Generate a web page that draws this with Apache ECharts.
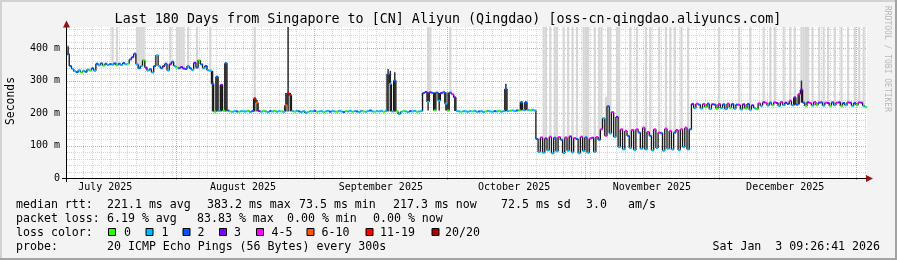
<!DOCTYPE html>
<html><head><meta charset="utf-8">
<script src="https://cdn.jsdelivr.net/npm/echarts@6/dist/echarts.min.js"></script>
<style>html,body{margin:0;padding:0;background:#f3f3f3}#c{width:897px;height:260px}</style>
</head><body><div id="c"></div>
<script>
// ---------------- DATA ----------------
const chartTitle = "Last 180 Days from Singapore to [CN] Aliyun (Qingdao) [oss-cn-qingdao.aliyuncs.com]";
const yAxisTitle = "Seconds";
const endStamp = "Sat Jan  3 09:26:41 2026";
const startUTC = Date.UTC(2025, 6, 7, 9, 26, 41);
const spanDays = 180;
const stepDays = 0.5;
const monthLabels = ["July 2025", "August 2025", "September 2025", "October 2025", "November 2025", "December 2025"];
const monthLabelDates = [[2025,6,16],[2025,7,16],[2025,8,16],[2025,9,16],[2025,10,16],[2025,11,16]];
const monthStartDates = [[2025,7,1],[2025,8,1],[2025,9,1],[2025,10,1],[2025,11,1],[2026,0,1]];
const yTicks = [0, 100, 200, 300, 400];
const yMax = 465;

// median RTT (ms), one value per half day
const median = [
 382,345,336,329,326,332,325,330,327,334,331,338,330,352,347,353,346,352,348,351,
 349,353,347,352,348,354,350,352,365,372,383,350,338,345,363,340,331,335,325,345,
 378,345,338,345,352,331,350,358,345,340,338,342,337,336,345,338,333,355,340,363,
 350,338,345,332,330,290,204,312,206,287,207,353,208,205,204,206,205,204,206,205,
 205,207,203,206,245,232,206,204,207,205,203,206,205,207,204,206,205,204,224,262,
 255,206,204,207,205,203,206,200,204,206,205,207,204,205,206,203,205,207,204,206,
 205,204,207,205,203,206,205,207,204,206,205,203,207,205,204,206,208,205,204,206,
 205,207,204,206,320,290,205,300,205,197,204,206,205,203,206,205,207,204,205,206,
 262,265,234,264,262,208,263,238,262,264,229,208,263,258,248,206,205,204,206,205,
 204,206,205,207,204,205,206,203,205,207,205,204,206,205,207,204,206,274,206,207,
 208,206,208,209,233,209,233,210,209,210,208,120,80,125,78,122,85,127,76,124,
 82,126,118,77,125,84,128,79,123,120,76,127,83,125,78,122,124,80,126,118,
 150,184,130,221,137,203,126,188,95,150,88,145,130,92,148,86,150,140,90,155,
 88,142,130,85,150,92,140,138,84,152,90,145,88,140,148,86,150,95,155,88,
 150,228,215,229,226,214,228,218,229,212,227,226,213,228,215,227,212,229,216,228,
 213,226,225,211,227,214,228,210,224,215,212,230,222,233,232,223,232,224,233,231,
 222,234,224,232,228,238,224,248,226,258,272,232,222,233,231,223,234,224,232,233,
 223,232,231,222,233,224,232,233,222,231,224,233,232,222,231,224,233,232,222,218
];
// loss class per half day: 0=0, 1=1, 2=2, 3=3, 4=4-5, 5=6-10, 6=11-19, 7=20/20
const lossClass = [
 2,2,1,1,2,1,0,1,2,1,0,2,1,2,1,2,0,2,1,2,
 1,2,0,2,1,2,1,0,2,3,2,1,2,1,0,3,1,2,1,2,
 1,1,2,3,2,1,3,2,1,0,2,3,3,2,1,2,1,3,2,0,
 2,1,2,1,1,2,0,2,1,3,0,2,2,0,1,1,2,0,1,1,
 1,0,1,2,6,5,3,1,0,1,1,2,1,0,1,1,0,1,5,6,
 6,1,0,1,2,1,1,1,0,1,1,2,0,1,1,0,1,1,2,1,
 1,0,1,1,2,0,1,1,0,1,2,1,1,0,1,1,2,1,0,1,
 1,1,0,1,2,1,1,2,0,1,1,0,1,1,2,1,1,0,1,1,
 2,3,1,3,2,0,2,1,3,2,1,0,2,4,3,1,1,0,1,1,
 1,1,0,1,1,2,1,1,0,1,1,1,2,1,0,1,1,2,1,0,
 1,1,2,0,2,1,2,1,0,1,1,2,1,4,1,3,1,4,1,2,
 1,4,2,1,4,1,3,1,4,2,1,4,1,2,1,4,3,1,4,2,
 4,1,4,2,1,4,1,3,1,4,1,4,2,1,4,1,4,2,1,4,
 1,4,2,1,4,1,4,2,1,4,1,4,1,2,4,1,4,1,4,1,
 2,3,1,4,2,1,4,0,2,1,3,2,0,4,1,2,1,4,0,2,
 1,2,4,1,3,0,2,1,3,1,0,4,1,3,4,1,2,0,4,3,
 1,4,1,3,2,4,1,3,2,4,3,2,0,3,4,1,4,0,3,2,
 1,4,3,0,2,1,4,3,0,2,1,4,3,1,2,0,4,3,1,0
];
const lossColors = ['#26ff00','#00b8ff','#0059ff','#7e00ff','#ff00ff','#ff5500','#ff0000','#a10000'];
const lossLabels = ['0','1','2','3','4-5','6-10','11-19','20/20'];

// wide ping spread (light smoke): [half-day index, upper value ms]
const spreadBands = [
 [0,410],[20,465],[22,465],[31,465],[32,465],[33,465],[34,465],[46,465],[49,465],[50,465],[51,465],[52,465],
 [54,465],[58,465],[64,465],[84,465],[162,465],[163,465],[172,465],
 [214,465],[215,465],[217,465],[219,465],[220,465],[223,465],[225,465],[227,465],[229,465],[232,465],[233,465],
 [234,465],[237,465],[239,465],[240,465],[242,250],[243,465],[244,465],[247,465],[248,465],[253,465],[256,465],
 [260,465],[262,465],[266,465],[269,465],[271,465],[273,465],[276,465],[279,465],
 [293,465],[302,465],[307,465],[313,465],[316,465],[318,465],[322,465],[325,465],[327,465],[330,465],[331,465],
 [332,465],[333,465],[335,465],[338,465],[340,465],[342,465],[345,465],[348,465],[351,465],[354,465],[356,465],[358,465]
];
// dense smoke: [half-day index, low ms, high ms]
const denseSmoke = [
 [0,382,405],[65,205,330],[67,205,313],[69,205,287],[71,205,356],[84,205,248],[85,205,240],
 [98,205,262],[99,205,465],[100,205,262],[144,205,336],[145,205,330],[147,205,326],
 [162,208,264],[165,208,264],[167,208,262],[170,208,264],[171,208,263],[174,206,250],
 [197,205,290],[204,208,236],[206,208,236],[327,224,250],[329,226,262],[330,232,300]
];

// legend texts
const medianStats = ["median rtt:", "221.1 ms avg", "383.2 ms max", "73.5 ms min", "217.3 ms now", "72.5 ms sd", "3.0", "am/s"];
const lossStats = ["packet loss:", "6.19 % avg", "83.83 % max", "0.00 % min", "0.00 % now"];
const lossColorTitle = "loss color:";
const probeTexts = ["probe:", "20 ICMP Echo Pings (56 Bytes) every 300s"];
const sideText = "RRDTOOL / TOBI OETIKER";

// ---------------- LAYOUT ----------------
const DAY = 86400000;
const dayOf = (y, m, d) => (Date.UTC(y, m, d) - startUTC) / DAY;
const labelDays = monthLabelDates.map(a => dayOf(...a));
const startDays = monthStartDates.map(a => dayOf(...a));
const minorDays = [];
(function(){ const b = dayOf(2025, 8, 1); for (let d = b; d > 0; d -= 2) minorDays.push(d); for (let d = b + 2; d < spanDays; d += 2) minorDays.push(d); })();

const pts = median.map((v, i) => [i * stepDays, v, lossClass[i], i + 1 < median.length ? median[i + 1] : v]);
const MONO = '"DejaVu Sans Mono", monospace';
const px = v => Math.round(v) + 0.5;

function renderGrid(params, api) {
  const cs = params.coordSys;
  const x0 = cs.x, x1 = cs.x + cs.width, y0 = cs.y, y1 = cs.y + cs.height;
  const ch = [];
  const minor = () => ({stroke: '#d4d4d4', lineWidth: 1, lineDash: [1, 1]});
  const major = () => ({stroke: '#ee9a9a', lineWidth: 1, lineDash: [1, 1]});
  for (let v = 20; v <= yMax; v += 20) {
    if (v % 100 === 0) continue;
    const y = px(api.coord([0, v])[1]);
    ch.push({type: 'line', shape: {x1: x0, y1: y, x2: x1, y2: y}, style: minor()});
  }
  minorDays.forEach(d => { const x = px(api.coord([d, 0])[0]); ch.push({type: 'line', shape: {x1: x, y1: y0, x2: x, y2: y1}, style: minor()}); });
  yTicks.forEach(v => { if (v === 0) return; const y = px(api.coord([0, v])[1]); ch.push({type: 'line', shape: {x1: x0, y1: y, x2: x1, y2: y}, style: major()}); });
  startDays.forEach(d => { if (d <= 0 || d >= spanDays) return; const x = px(api.coord([d, 0])[0]); ch.push({type: 'line', shape: {x1: x, y1: y0, x2: x, y2: y1 + 3}, style: major()}); });
  return {type: 'group', children: ch};
}
function renderBand(params, api) {
  const cs = params.coordSys;
  const d = api.value(0), v = api.value(1), top = api.value(2);
  const a = api.coord([d, top]), b = api.coord([d + stepDays, v]);
  const yt = Math.max(a[1], cs.y);
  return {type: 'rect', shape: {x: a[0], y: yt, width: b[0] - a[0], height: b[1] - yt}, style: {fill: '#d6d6d6'}};
}
function renderSmoke(params, api) {
  const cs = params.coordSys;
  const d = api.value(0), lo = api.value(1), hi = api.value(2);
  const a = api.coord([d, hi]), b = api.coord([d + stepDays, lo]);
  const yt = Math.max(a[1], cs.y);
  return {type: 'rect', shape: {x: a[0] + 0.4, y: yt, width: Math.max(1, b[0] - a[0] - 0.8), height: b[1] - yt}, style: {fill: '#262626'}};
}
function renderConn(params, api) {
  const d = api.value(0), v = api.value(1), vn = api.value(3);
  const a = api.coord([d + stepDays, v]), b = api.coord([d + stepDays, vn]);
  return {type: 'line', shape: {x1: a[0], y1: a[1], x2: b[0], y2: b[1]}, style: {stroke: '#151515', lineWidth: 1.3}};
}
function renderSeg(params, api) {
  const d = api.value(0), v = api.value(1), c = api.value(2);
  const a = api.coord([d, v]), b = api.coord([d + stepDays, v]);
  return {type: 'rect', shape: {x: a[0], y: a[1] - 1, width: b[0] - a[0] + 0.2, height: 2}, style: {fill: lossColors[c]}};
}
function renderFrame(params, api) {
  const cs = params.coordSys;
  const x0 = cs.x, x1 = cs.x + cs.width, y0 = cs.y, y1 = cs.y + cs.height;
  const X = Math.round(x0) - 0.5, Y = Math.round(y1) + 0.5;
  return {type: 'group', children: [
    {type: 'line', shape: {x1: x0 - 5, y1: Y, x2: x1 + 1, y2: Y}, style: {stroke: '#000', lineWidth: 1}},
    {type: 'line', shape: {x1: X, y1: y1 + 4, x2: X, y2: y0 - 2}, style: {stroke: '#000', lineWidth: 1}},
    {type: 'polygon', shape: {points: [[x1 - 1, Y - 3.5], [x1 + 6, Y], [x1 - 1, Y + 3.5]]}, style: {fill: '#8f1414'}},
    {type: 'polygon', shape: {points: [[X - 3.5, y0 + 0.5], [X, y0 - 6.5], [X + 3.5, y0 + 0.5]]}, style: {fill: '#8f1414'}}
  ]};
}

const chart = echarts.init(document.getElementById('c'), null, {renderer: 'canvas', width: 897, height: 260});

const legendFont = (extra) => Object.assign({fontSize: 11.6, fontFamily: MONO, fill: '#000', verticalAlign: 'middle'}, extra || {});
const graphics = [];
// frame shading
graphics.push({type: 'rect', shape: {x: 0, y: 0, width: 897, height: 2}, style: {fill: '#d2d2d2'}, z: 100});
graphics.push({type: 'rect', shape: {x: 0, y: 0, width: 2, height: 260}, style: {fill: '#d2d2d2'}, z: 100});
graphics.push({type: 'rect', shape: {x: 0, y: 258, width: 897, height: 2}, style: {fill: '#a3a3a3'}, z: 100});
graphics.push({type: 'rect', shape: {x: 895, y: 0, width: 2, height: 260}, style: {fill: '#a3a3a3'}, z: 100});
// title
graphics.push({type: 'text', x: 448, y: 19.5, style: {text: chartTitle, fontSize: 13.35, fontFamily: MONO, fill: '#000', align: 'center', verticalAlign: 'middle'}});
// y title
graphics.push({type: 'text', x: 11.5, y: 101, rotation: Math.PI / 2, style: {text: yAxisTitle, fontSize: 11.4, fontFamily: MONO, fill: '#000', align: 'center', verticalAlign: 'middle'}});
// side watermark
graphics.push({type: 'text', x: 887, y: 59, rotation: -Math.PI / 2, style: {text: sideText, fontSize: 8, fontFamily: MONO, fill: '#b8b8b8', align: 'center', verticalAlign: 'middle'}});
// stats lines
const medX = [16, 107, 207, 299, 393, 501, 586, 628];
medianStats.forEach((t, k) => graphics.push({type: 'text', x: medX[k], y: 204.5, style: legendFont({text: t})}));
const lossX = [16, 107, 197, 287, 373];
lossStats.forEach((t, k) => graphics.push({type: 'text', x: lossX[k], y: 218.5, style: legendFont({text: t})}));
graphics.push({type: 'text', x: 16, y: 232.5, style: legendFont({text: lossColorTitle})});
const boxX = [108, 145.5, 182.5, 219, 256, 306.5, 365.5, 431.5];
const boxLabelX = [124, 161.5, 197.5, 234, 271.5, 321.5, 380, 445];
lossLabels.forEach((t, k) => {
  graphics.push({type: 'rect', shape: {x: boxX[k] + 0.5, y: 228.5, width: 7, height: 7}, style: {fill: lossColors[k], stroke: '#000', lineWidth: 1}});
  graphics.push({type: 'text', x: boxLabelX[k], y: 232.5, style: legendFont({text: t})});
});
graphics.push({type: 'text', x: 16, y: 246.5, style: legendFont({text: probeTexts[0]})});
graphics.push({type: 'text', x: 107, y: 246.5, style: legendFont({text: probeTexts[1]})});
graphics.push({type: 'text', x: 880, y: 246.5, style: legendFont({text: endStamp, align: 'right'})});

chart.setOption({
  animation: false,
  backgroundColor: '#f3f3f3',
  grid: {left: 67, right: 30, top: 27, bottom: 82, show: true, backgroundColor: '#ffffff', borderWidth: 0},
  xAxis: {
    type: 'value', min: 0, max: spanDays,
    axisLine: {show: false}, axisTick: {show: false}, splitLine: {show: false},
    axisLabel: {
      customValues: labelDays, margin: 4,
      fontSize: 10, fontFamily: MONO, color: '#000',
      formatter: v => { let k = 0, best = 1e9; labelDays.forEach((d, j) => { if (Math.abs(d - v) < best) { best = Math.abs(d - v); k = j; } }); return monthLabels[k]; }
    }
  },
  yAxis: {
    type: 'value', min: 0, max: yMax,
    axisLine: {show: false}, axisTick: {show: false}, splitLine: {show: false},
    axisLabel: {customValues: yTicks, margin: 7, fontSize: 10, fontFamily: MONO, color: '#000', formatter: v => v === 0 ? '0' : v + ' m'}
  },
  graphic: graphics,
  series: [
    {type: 'custom', name: 'grid', z: 1, silent: true, data: [[0, 0]], renderItem: renderGrid},
    {type: 'custom', name: 'spread', z: 2, silent: true, data: spreadBands.map(([i, top]) => [i * stepDays, median[i], top]), renderItem: renderBand},
    {type: 'custom', name: 'smoke', z: 3, silent: true, data: denseSmoke.map(([i, lo, hi]) => [i * stepDays, lo, hi]), renderItem: renderSmoke},
    {type: 'custom', name: 'connect', z: 4, silent: true, data: pts, renderItem: renderConn},
    {type: 'custom', name: 'median', z: 5, silent: true, data: pts, renderItem: renderSeg},
    {type: 'custom', name: 'frame', z: 6, silent: true, clip: false, data: [[0, 0]], renderItem: renderFrame}
  ]
});
</script></body></html>
